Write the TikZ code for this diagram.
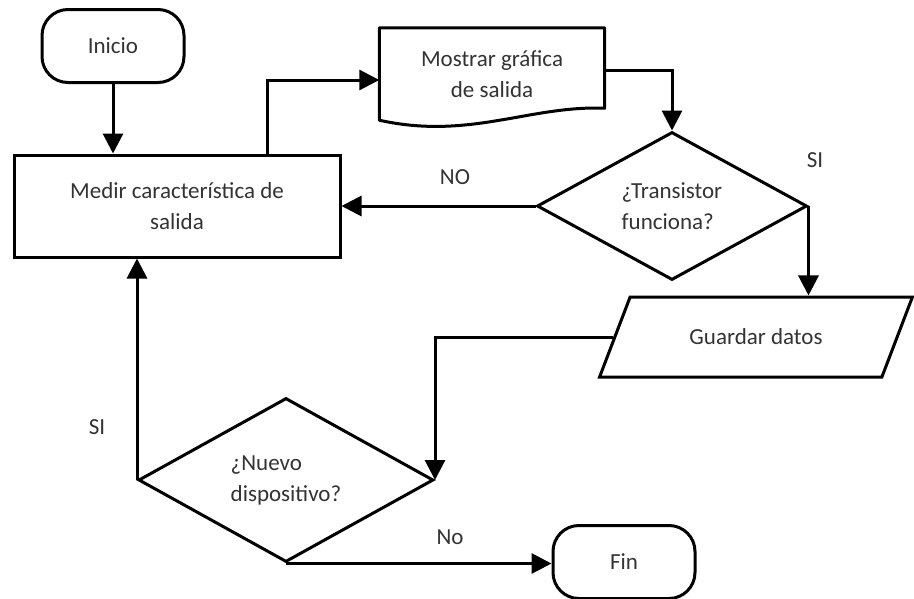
\documentclass[tikz,border=0pt]{standalone}
\usepackage{fontspec}
\setmainfont{Carlito}
\usetikzlibrary{arrows.meta,shapes.geometric}
\tikzset{
  trm/.style={draw,rectangle,rounded corners=26pt,line width=3pt,minimum width=142pt,minimum height=73pt,inner sep=0pt},
  prc/.style={draw,rectangle,line width=3pt,align=center,inner sep=0pt},
  dec/.style={draw,diamond,aspect=1.8,line width=3pt,align=left,inner sep=0pt},
  io/.style={draw,trapezium,trapezium left angle=45,trapezium right angle=135,trapezium stretches=true,line width=3pt,inner sep=0pt},
  doc/.style={rectangle,align=center,inner sep=0pt},
  flw/.style={line width=3pt,-{Triangle[length=20pt,width=20pt]}},
  lbl/.style={inner sep=0pt}
}
\newcommand{\docout}[1]{\draw[line width=3pt,line join=round] (#1.north west) -- (#1.north east) -- ([yshift=12pt]#1.south east) .. controls +(-75,-3) and +(90,20) .. (#1.south west) -- cycle;}

\begin{document}
\begin{tikzpicture}[x=1pt,y=-1pt,font=\fontsize{23}{31}\selectfont,text=black!80]
\useasboundingbox (0,0) rectangle (914,598);
\node[trm] (inicio) at (113,46) {Inicio};
\node[prc,minimum width=326pt,minimum height=102pt] (medir) at (177,206) {Medir característica de\\salida};
\node[doc,minimum width=225pt,minimum height=92pt] (mostrar) at (492,74) {Mostrar gráfica\\de salida}; \docout{mostrar}
\node[dec,minimum width=270pt,minimum height=148pt] (d1) at (672,206) {¿Transistor\\funciona?};
\node[io,minimum width=313pt,minimum height=80pt] (guardar) at (756,337) {Guardar datos};
\node[dec,minimum width=295pt,minimum height=164pt] (d2) at (286,480) {¿Nuevo\\dispositivo?};
\node[trm] (fin) at (624,562) {Fin};
\draw[flw] (inicio.south) -- (inicio.south |- medir.north);
\draw[flw] ([xshift=90pt]medir.north) |- ([yshift=-6pt]mostrar.west);
\draw[flw] ([yshift=4pt]mostrar.east) -| (d1.north);
\draw[flw] (d1.west) -- (medir.east); \node[lbl] (lno) at (455,177) {NO};
\draw[flw] (d1.east) -- (d1.east |- guardar.north); \node[lbl] (lsi) at (815,160) {SI};
\draw[flw] (guardar.west) -| (d2.east);
\draw[flw] (d2.west) -- (d2.west |- medir.south); \node[lbl] (lsi2) at (97,427) {SI};
\draw[flw] (d2.south) -- (d2.south -| fin.west); \node[lbl] (lno2) at (450,537) {No};
\end{tikzpicture}
\end{document}
